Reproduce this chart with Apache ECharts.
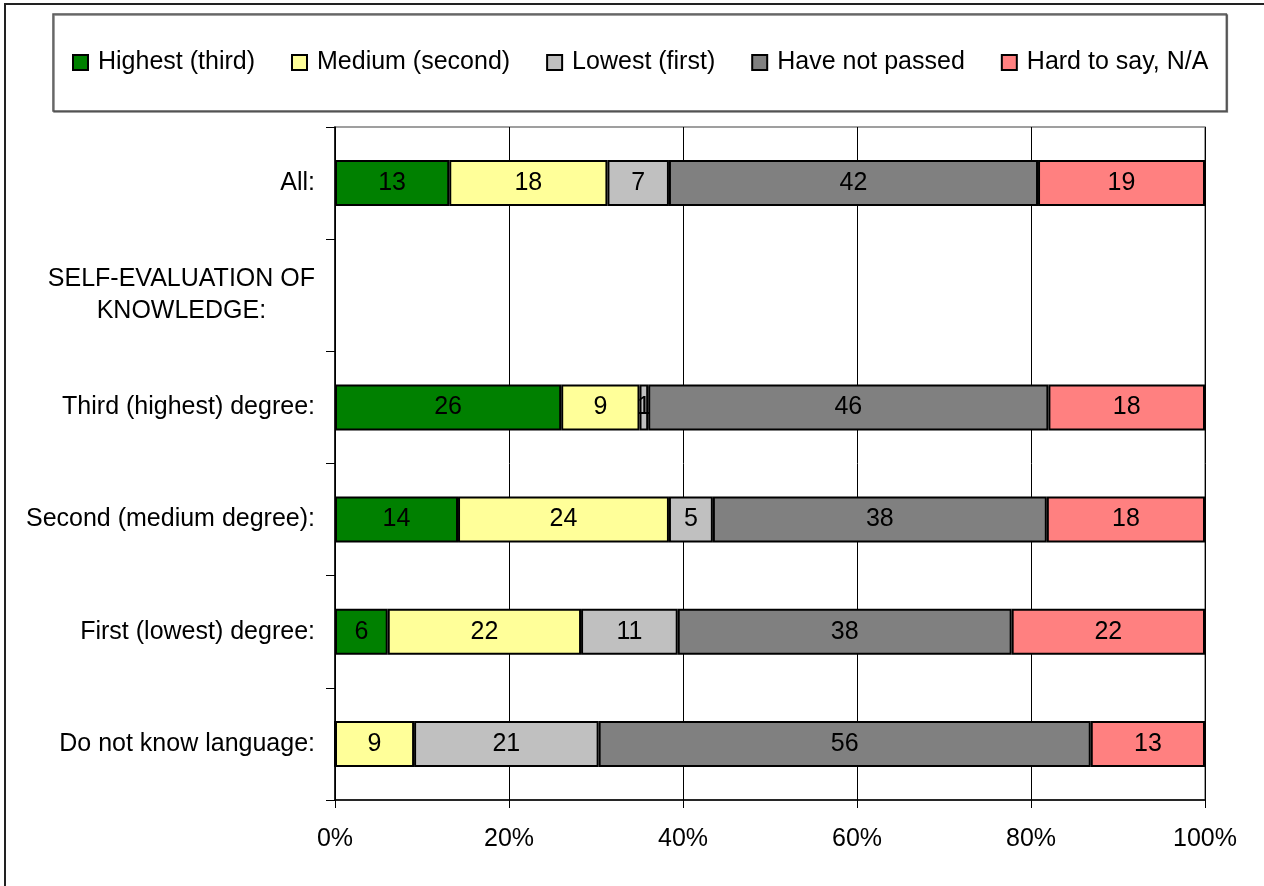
<!DOCTYPE html>
<html>
<head>
<meta charset="utf-8">
<script src="https://cdn.jsdelivr.net/npm/echarts@6/dist/echarts.min.js"></script>
<style>
  html, body { margin: 0; padding: 0; background: #fff; }
  #main { width: 1264px; height: 886px; }
</style>
</head>
<body>
<div id="main"></div>
<script>
// categories, top to bottom
var categories = ['All:', 'SELF-EVALUATION OF KNOWLEDGE:', 'Third (highest) degree:',
  'Second (medium degree):', 'First (lowest) degree:', 'Do not know language:']
var seriesNames = ['Highest (third)', 'Medium (second)', 'Lowest (first)', 'Have not passed', 'Hard to say, N/A']
var colors = ['#008000', '#FFFF99', '#C0C0C0', '#808080', '#FF8080']

// raw percentages per series (null = no bar for that row)
var highest = [13, null, 26, 14, 6, 0]
var medium = [18, null, 9, 24, 22, 9]
var lowest = [7, null, 1, 5, 11, 21]
var notPassed = [42, null, 46, 38, 38, 56]
var hardToSay = [19, null, 18, 18, 22, 13]
var xTicks = ['0%', '20%', '40%', '60%', '80%', '100%']

var raw = [highest, medium, lowest, notPassed, hardToSay]

// each row is stretched to 100%
var rowSums = categories.map(function (c, i) {
  var s = 0
  raw.forEach(function (arr) { s += arr[i] || 0 })
  return s
})

var font = '"Liberation Sans", Arial, sans-serif'
var fs = 25

var series = raw.map(function (arr, k) {
  return {
    name: seriesNames[k],
    type: 'bar',
    stack: 'total',
    barWidth: 46,
    itemStyle: { color: colors[k], borderColor: '#000', borderWidth: 2 },
    label: {
      show: true,
      position: 'inside',
      color: '#000',
      fontSize: fs,
      fontFamily: font,
      formatter: function (p) {
        var v = arr[p.dataIndex]
        return v ? String(v) : ''
      }
    },
    data: arr.map(function (v, i) {
      return v == null ? '-' : v / rowSums[i] * 100
    })
  }
})

var myChart = echarts.init(document.getElementById('main'))
myChart.setOption({
  animation: false,
  textStyle: { fontFamily: font },
  graphic: [{
    type: 'rect',
    shape: { x: 5, y: 4, width: 1400, height: 1000 },
    style: { fill: 'none', stroke: '#222', lineWidth: 2 },
    z: -10
  }],
  legend: {
    left: 53,
    top: 14,
    padding: [36, 18, 36, 19],
    itemGap: 36,
    itemWidth: 15,
    itemHeight: 15,
    icon: 'rect',
    borderColor: '#555',
    borderWidth: 1.5,
    shadowColor: 'rgba(0,0,0,0.5)',
    shadowOffsetX: 1,
    shadowOffsetY: 1,
    backgroundColor: '#fff',
    textStyle: { fontSize: fs, color: '#000', fontFamily: font, padding: [0, 0, 0, 5] },
    data: seriesNames
  },
  grid: {
    left: 335,
    right: 59,
    top: 127,
    bottom: 86,
    show: true,
    borderColor: '#808080',
    borderWidth: 1.5,
    containLabel: false
  },
  xAxis: {
    type: 'value',
    min: 0,
    max: 100,
    interval: 20,
    axisLine: { show: true, lineStyle: { color: '#000', width: 1.5 } },
    axisTick: { show: true, length: 8, lineStyle: { color: '#000' } },
    splitLine: { show: true, lineStyle: { color: '#000', width: 1 } },
    axisLabel: {
      fontSize: fs,
      color: '#000',
      margin: 27,
      formatter: function (v) { return xTicks[v / 20] }
    }
  },
  yAxis: {
    type: 'category',
    inverse: true,
    data: categories,
    axisLine: { show: true, lineStyle: { color: '#000', width: 1.5 } },
    axisTick: { show: true, length: 9, lineStyle: { color: '#000' } },
    axisLabel: {
      fontSize: fs,
      color: '#000',
      margin: 20,
      formatter: function (v) {
        if (v === 'SELF-EVALUATION OF KNOWLEDGE:') {
          return '{c|SELF-EVALUATION OF}\n{c|KNOWLEDGE:}'
        }
        return v
      },
      rich: {
        c: { align: 'center', fontSize: fs, color: '#000', lineHeight: 32, fontFamily: font }
      }
    }
  },
  series: series
})
</script>
</body>
</html>
